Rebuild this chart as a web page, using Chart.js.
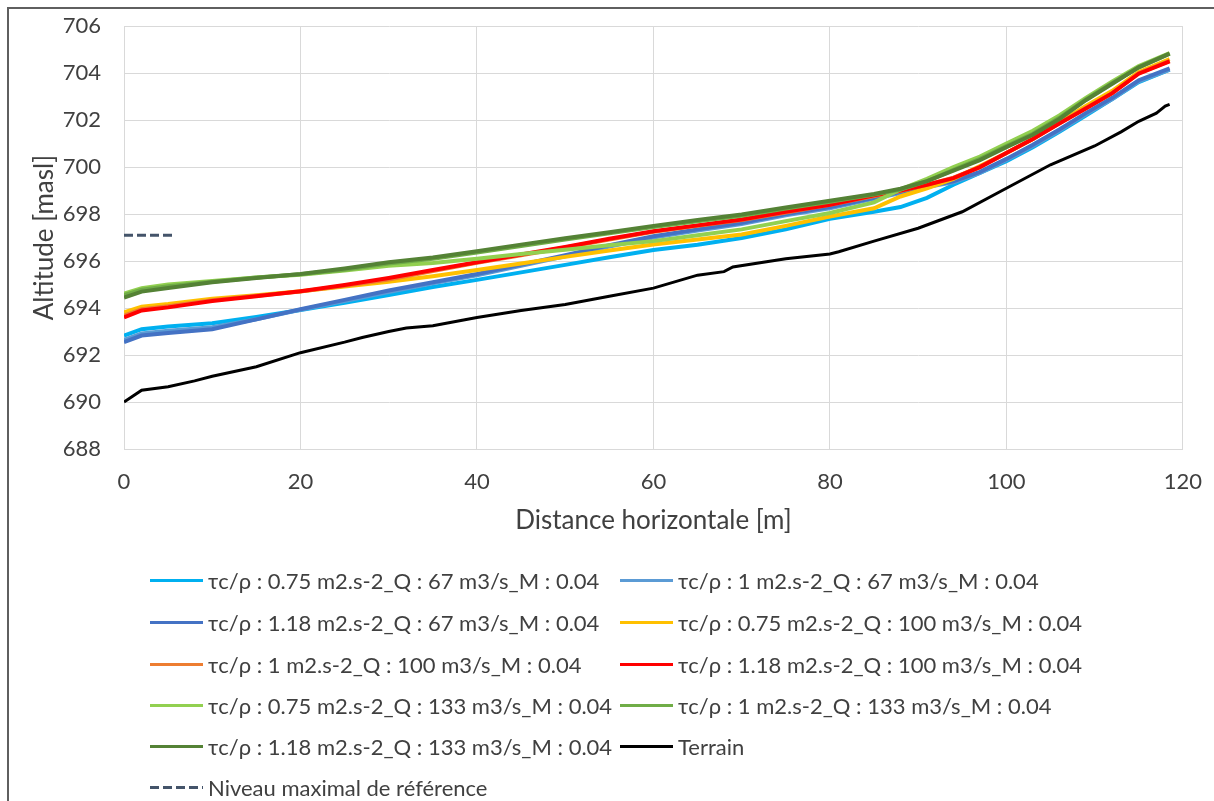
<!DOCTYPE html>
<html>
<head>
<meta charset="utf-8">
<script src="https://cdn.jsdelivr.net/npm/chart.js@4.4.0/dist/chart.umd.min.js"></script>
<style>
    body { margin: 0; background: #fff; font-family: Lato, sans-serif; overflow: hidden; }
    #frame { position: absolute; left: 7px; top: 7px; width: 1300px; height: 900px; border: 2px solid #5f5f5f; box-sizing: border-box; }
    #wrap { position: absolute; left: 0; top: -10px; width: 1222px; height: 560px; }
    #legend { position: absolute; left: 0; top: 0; width: 1214px; height: 801px; pointer-events: none; }
    .item { position: absolute; height: 30px; display: flex; align-items: center; font-size: 22px; color: #404040; white-space: nowrap; }
    .swatch { width: 53px; height: 3px; margin-right: 5px; }
</style>
</head>
<body>
<div id="frame"></div>
<div id="wrap"><canvas id="chart" width="1222" height="560"></canvas></div>
<div id="legend"></div>
<script>
// --- Data ---
const distance = [0, 2, 5, 10, 15, 20, 25, 30, 35, 40, 45, 50, 55, 60, 65, 70, 75, 80, 85, 88, 91, 94, 97, 100, 103, 106, 109, 112, 115, 118.5];

const q67_t075 = [692.83, 693.1, 693.22, 693.35, 693.62, 693.92, 694.22, 694.55, 694.9, 695.2, 695.52, 695.84, 696.16, 696.47, 696.7, 696.98, 697.35, 697.8, 698.1, 698.3, 698.69, 699.25, 699.75, 700.25, 700.85, 701.5, 702.2, 702.9, 703.62, 704.15];
const q67_t1 = [692.65, 692.92, 693.03, 693.18, 693.52, 693.93, 694.3, 694.68, 695.05, 695.4, 695.8, 696.2, 696.62, 697.0, 697.3, 697.58, 697.95, 698.25, 698.65, 698.9, 699.15, 699.35, 699.75, 700.3, 700.9, 701.55, 702.25, 702.9, 703.65, 704.15];
const q67_t118 = [692.55, 692.83, 692.94, 693.1, 693.52, 693.95, 694.35, 694.75, 695.1, 695.45, 695.85, 696.25, 696.68, 697.06, 697.35, 697.63, 698.0, 698.3, 698.7, 698.95, 699.2, 699.4, 699.8, 700.35, 700.95, 701.6, 702.3, 702.95, 703.7, 704.2];
const q100_t075 = [693.82, 694.06, 694.17, 694.4, 694.55, 694.72, 694.92, 695.12, 695.35, 695.62, 695.9, 696.18, 696.45, 696.71, 696.92, 697.13, 697.5, 697.9, 698.25, 698.75, 699.1, 699.5, 700.05, 700.6, 701.2, 701.9, 702.6, 703.25, 704.05, 704.6];
const q100_t1 = [693.68, 693.95, 694.08, 694.33, 694.52, 694.7, 694.95, 695.22, 695.58, 695.93, 696.25, 696.58, 696.92, 697.25, 697.5, 697.75, 698.07, 698.4, 698.77, 698.98, 699.25, 699.55, 700.0, 700.6, 701.2, 701.87, 702.52, 703.15, 704.0, 704.52];
const q100_t118 = [693.6, 693.9, 694.03, 694.3, 694.5, 694.72, 694.98, 695.28, 695.62, 695.95, 696.28, 696.6, 696.95, 697.27, 697.52, 697.77, 698.1, 698.4, 698.8, 699.0, 699.25, 699.53, 700.0, 700.6, 701.2, 701.86, 702.5, 703.15, 703.98, 704.5];
const q133_t075 = [694.62, 694.85, 695.0, 695.15, 695.3, 695.42, 695.6, 695.8, 695.92, 696.1, 696.3, 696.48, 696.67, 696.85, 697.1, 697.35, 697.7, 698.05, 698.5, 699.05, 699.5, 700.0, 700.45, 701.0, 701.55, 702.2, 702.95, 703.65, 704.3, 704.85];
const q133_t1 = [694.55, 694.78, 694.93, 695.12, 695.3, 695.44, 695.63, 695.9, 696.1, 696.36, 696.64, 696.92, 697.18, 697.45, 697.7, 697.93, 698.24, 698.53, 698.83, 699.05, 699.4, 699.88, 700.35, 700.9, 701.42, 702.1, 702.88, 703.58, 704.25, 704.83];
const q133_t118 = [694.45, 694.7, 694.85, 695.1, 695.28, 695.45, 695.68, 695.95, 696.15, 696.42, 696.7, 696.97, 697.23, 697.5, 697.75, 697.98, 698.28, 698.57, 698.86, 699.08, 699.4, 699.85, 700.3, 700.85, 701.38, 702.05, 702.85, 703.55, 704.25, 704.83];

const terrainX = [0, 2, 5, 8, 10, 15, 20, 25, 27, 30, 32, 35, 40, 45, 50, 55, 60, 65, 68, 69, 75, 80, 81, 85, 90, 95, 100, 105, 110, 113, 115, 117, 117.5, 118, 118.5];
const terrainY = [690.0, 690.5, 690.65, 690.9, 691.1, 691.5, 692.1, 692.55, 692.75, 693.0, 693.15, 693.25, 693.6, 693.9, 694.15, 694.5, 694.85, 695.4, 695.55, 695.75, 696.1, 696.3, 696.4, 696.85, 697.4, 698.1, 699.1, 700.1, 700.9, 701.5, 701.95, 702.3, 702.45, 702.6, 702.67];

const niveauX = [0, 5.5];
const niveauY = [697.1, 697.1];

const seriesLabels = [
    "τc/ρ : 0.75 m2.s-2_Q : 67 m3/s_M : 0.04",
    "τc/ρ : 1 m2.s-2_Q : 67 m3/s_M : 0.04",
    "τc/ρ : 1.18 m2.s-2_Q : 67 m3/s_M : 0.04",
    "τc/ρ : 0.75 m2.s-2_Q : 100 m3/s_M : 0.04",
    "τc/ρ : 1 m2.s-2_Q : 100 m3/s_M : 0.04",
    "τc/ρ : 1.18 m2.s-2_Q : 100 m3/s_M : 0.04",
    "τc/ρ : 0.75 m2.s-2_Q : 133 m3/s_M : 0.04",
    "τc/ρ : 1 m2.s-2_Q : 133 m3/s_M : 0.04",
    "τc/ρ : 1.18 m2.s-2_Q : 133 m3/s_M : 0.04",
    "Terrain",
    "Niveau maximal de référence"
];
const seriesColors = ["#00B0F0", "#5B9BD5", "#4472C4", "#FFC000", "#ED7D31", "#FF0000", "#92D050", "#70AD47", "#548235", "#000000", "#44546A"];

const xTicks = [0, 20, 40, 60, 80, 100, 120];
const yTicks = [688, 690, 692, 694, 696, 698, 700, 702, 704, 706];

// --- Build datasets ---
function toPoints(xs, ys) {
    return xs.map((x, i) => ({ x: x, y: ys[i] }));
}

const surfaces = [q67_t075, q67_t1, q67_t118, q100_t075, q100_t1, q100_t118, q133_t075, q133_t1, q133_t118];
const allPoints = surfaces.map(s => toPoints(distance, s));
allPoints.push(toPoints(terrainX, terrainY));
allPoints.push(toPoints(niveauX, niveauY));

const N = allPoints.length;
const datasets = allPoints.map((pts, i) => ({
    label: seriesLabels[i],
    data: pts,
    borderColor: seriesColors[i],
    backgroundColor: seriesColors[i],
    borderWidth: i >= 9 ? 3 : 4,
    borderDash: i === 10 ? [9, 4] : [],
    pointRadius: 0,
    tension: 0,
    fill: false,
    // later series drawn on top, like the original
    order: N - i
}));

const tickFont = { family: "Lato", size: 22 };
const titleFont = { family: "Lato", size: 26 };
const textColor = "#404040";
const gridColor = "#D9D9D9";

new Chart(document.getElementById("chart"), {
    type: "line",
    data: { datasets: datasets },
    options: {
        responsive: false,
        devicePixelRatio: 1,
        animation: false,
        layout: { padding: { left: 20, top: 0, right: 0, bottom: 0 } },
        plugins: { legend: { display: false }, tooltip: { enabled: false } },
        scales: {
            x: {
                type: "linear",
                min: xTicks[0],
                max: xTicks[xTicks.length - 1],
                afterBuildTicks: s => { s.ticks = xTicks.map(v => ({ value: v })); },
                afterFit: s => { s.height = 101; },
                grid: { color: gridColor, drawTicks: false },
                border: { color: gridColor },
                ticks: { font: tickFont, color: textColor, padding: 20, maxRotation: 0 },
                title: { display: true, text: "Distance horizontale [m]", font: titleFont, color: textColor, padding: { top: 0, bottom: 14 } }
            },
            y: {
                min: yTicks[0],
                max: yTicks[yTicks.length - 1],
                afterBuildTicks: s => { s.ticks = yTicks.map(v => ({ value: v })); },
                afterFit: s => { s.width = 104; },
                grid: { color: gridColor, drawTicks: false },
                border: { color: gridColor },
                ticks: { font: tickFont, color: textColor, padding: 23 },
                title: { display: true, text: "Altitude [masl]", font: titleFont, color: textColor, padding: { top: 9, bottom: 0 } }
            }
        }
    }
});

// --- HTML legend, two columns like the original ---
const legend = document.getElementById("legend");
const rowY = [580, 622, 664, 705, 746, 787];
const colX = [150, 620];
seriesLabels.forEach((label, i) => {
    const row = Math.floor(i / 2);
    const col = i % 2;
    const item = document.createElement("div");
    item.className = "item";
    item.style.left = colX[col] + "px";
    item.style.top = (rowY[row] - 15) + "px";
    const sw = document.createElement("div");
    sw.className = "swatch";
    if (i === 10) {
        sw.style.background = `repeating-linear-gradient(90deg, ${seriesColors[i]} 0 9px, transparent 9px 13px)`;
    } else {
        sw.style.background = seriesColors[i];
    }
    const txt = document.createElement("span");
    txt.textContent = label;
    item.appendChild(sw);
    item.appendChild(txt);
    legend.appendChild(item);
});
</script>
</body>
</html>
